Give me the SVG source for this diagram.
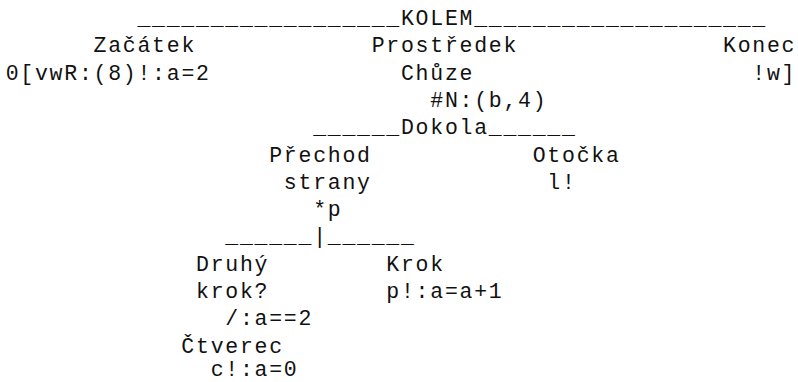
<svg xmlns="http://www.w3.org/2000/svg" width="798" height="382" viewBox="0 0 798 382">
<style>
text{font-family:"Liberation Mono","DejaVu Sans Mono",monospace;font-size:21.5px;letter-spacing:1.74px;fill:#111;}
</style>
<rect width="798" height="382" fill="#fff"/>
<g transform="translate(0.9,0)">
<g id="connectors">
<text x="136.56" y="25">__________________</text>
<text x="473.28" y="25">____________________</text>
<text x="312.24" y="134.2">______</text>
<text x="487.92" y="134.2">______</text>
<text x="224.4" y="243.4">______|______</text>
</g>
<g id="kolem"><text x="400.08" y="25">KOLEM</text></g>
<g id="zacatek">
<text x="92.64" y="52.3">Začátek</text>
<text x="4.8" y="79.6">0[vwR:(8)!:a=2</text>
</g>
<g id="prostredek">
<text x="370.8" y="52.3">Prostředek</text>
<text x="400.08" y="79.6">Chůze</text>
<text x="429.36" y="106.9">#N:(b,4)</text>
</g>
<g id="konec">
<text x="722.16" y="52.3">Konec</text>
<text x="751.44" y="79.6">!w]</text>
</g>
<g id="dokola"><text x="400.08" y="134.2">Dokola</text></g>
<g id="prechod">
<text x="268.32" y="161.5">Přechod</text>
<text x="282.96" y="188.8">strany</text>
<text x="312.24" y="216.1">*p</text>
</g>
<g id="otocka">
<text x="531.84" y="161.5">Otočka</text>
<text x="546.48" y="188.8">l!</text>
</g>
<g id="druhy">
<text x="195.12" y="270.7">Druhý</text>
<text x="195.12" y="298">krok?</text>
<text x="224.4" y="325.3">/:a==2</text>
</g>
<g id="krok">
<text x="385.44" y="270.7">Krok</text>
<text x="385.44" y="298">p!:a=a+1</text>
</g>
<g id="ctverec">
<text x="180.48" y="352.6">Čtverec</text>
<text x="209.76" y="375.8">c!:a=0</text>
</g>
</g>
</svg>
